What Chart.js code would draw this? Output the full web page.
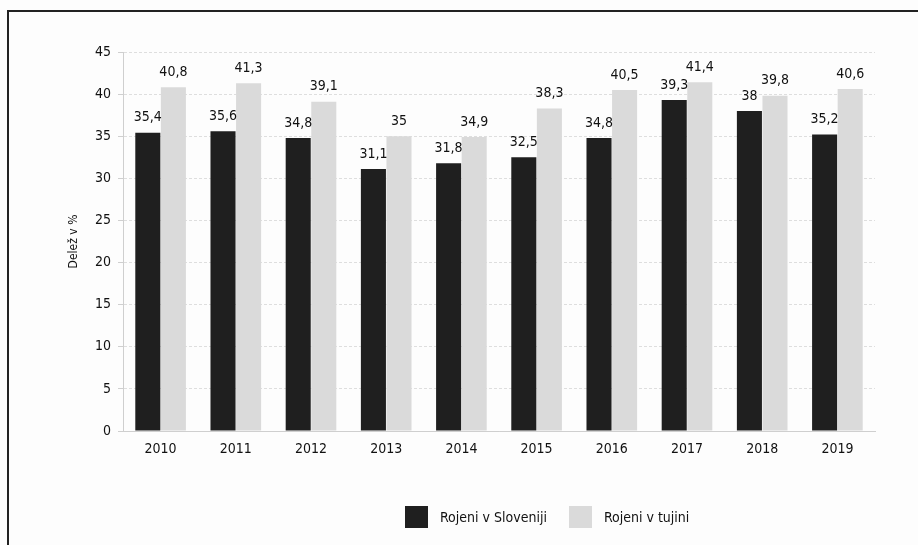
<!DOCTYPE html>
<html>
<head>
<meta charset="utf-8">
<script src="https://cdn.jsdelivr.net/npm/chart.js@4"></script>
<style>
  html, body { margin: 0; padding: 0; background: #fff; }
  #wrap { position: relative; width: 918px; height: 545px; overflow: hidden; background: #fdfdfd; }
  #frame { position: absolute; left: 7px; top: 10px; right: -5px; bottom: -5px; border-top: 2px solid #222; border-left: 2px solid #222; }
  canvas { position: absolute; left: 0; top: 0; }
  #legend { position: absolute; left: 405px; top: 506px; display: flex; align-items: center;
            font-family: 'Liberation Sans Narrow', 'DejaVu Sans Condensed', sans-serif; font-size: 14px; color: #111; }
  #legend .item { display: flex; align-items: center; margin-right: 22px; }
  #legend .sw { width: 23px; height: 22px; margin-right: 12px; }
</style>
</head>
<body>
<div id="wrap">
  <div id="frame"></div>
  <canvas id="c" width="918" height="545"></canvas>
  <div id="legend"></div>
</div>
<script>
const categories = ['2010','2011','2012','2013','2014','2015','2016','2017','2018','2019'];
const seriesNames = ['Rojeni v Sloveniji', 'Rojeni v tujini'];
const bornSlovenia = [35.4, 35.6, 34.8, 31.1, 31.8, 32.5, 34.8, 39.3, 38.0, 35.2];
const bornAbroad = [40.8, 41.3, 39.1, 35.0, 34.9, 38.3, 40.5, 41.4, 39.8, 40.6];
const yTicks = [0, 5, 10, 15, 20, 25, 30, 35, 40, 45];
const yTitle = 'Delež v %';
const colors = ['#1f1f1f', '#dadada'];

const FONT = "'Liberation Sans Narrow', 'DejaVu Sans Condensed', sans-serif";

const labelPlugin = {
  id: 'valueLabels',
  afterDatasetsDraw(chart) {
    const ctx = chart.ctx;
    ctx.save();
    ctx.font = '14px ' + FONT;
    ctx.fillStyle = '#111';
    ctx.textAlign = 'center';
    ctx.textBaseline = 'bottom';
    chart.data.datasets.forEach((ds, i) => {
      chart.getDatasetMeta(i).data.forEach((bar, j) => {
        const txt = String(ds.data[j]).replace('.', ',');
        ctx.fillText(txt, bar.x, bar.y - 8);
      });
    });
    ctx.restore();
  }
};

const chart = new Chart(document.getElementById('c'), {
  type: 'bar',
  data: {
    labels: categories,
    datasets: [
      { label: seriesNames[0], data: bornSlovenia, backgroundColor: colors[0], categoryPercentage: 0.68, barPercentage: 0.98 },
      { label: seriesNames[1], data: bornAbroad, backgroundColor: colors[1], categoryPercentage: 0.68, barPercentage: 0.98 }
    ]
  },
  options: {
    responsive: false,
    animation: false,
    layout: { padding: { left: 67, right: 43, top: 52, bottom: 84 } },
    plugins: { legend: { display: false }, tooltip: { enabled: false } },
    scales: {
      x: {
        grid: { display: false, drawTicks: false },
        border: { color: '#cfcfcf' },
        ticks: { font: { family: FONT, size: 14 }, color: '#111', padding: 10 },
        afterFit(s) { s.height = 30; }
      },
      y: {
        min: 0, max: 45,
        afterBuildTicks(s) { s.ticks = yTicks.map(v => ({ value: v })); },
        grid: { color: '#dedede', tickLength: 5, tickColor: '#cfcfcf' },
        border: { color: '#cfcfcf', dash: [3, 2] },
        ticks: { font: { family: FONT, size: 14 }, color: '#111', padding: 7 },
        title: { display: true, text: yTitle, font: { family: FONT, size: 12 }, color: '#111', padding: { top: 0, bottom: 4 } },
        afterFit(s) { s.width = 56; }
      }
    }
  },
  plugins: [labelPlugin]
});

const leg = document.getElementById('legend');
chart.data.datasets.forEach(ds => {
  const item = document.createElement('div');
  item.className = 'item';
  const sw = document.createElement('span');
  sw.className = 'sw';
  sw.style.background = ds.backgroundColor;
  const t = document.createElement('span');
  t.textContent = ds.label;
  item.appendChild(sw); item.appendChild(t);
  leg.appendChild(item);
});
</script>
</body>
</html>
